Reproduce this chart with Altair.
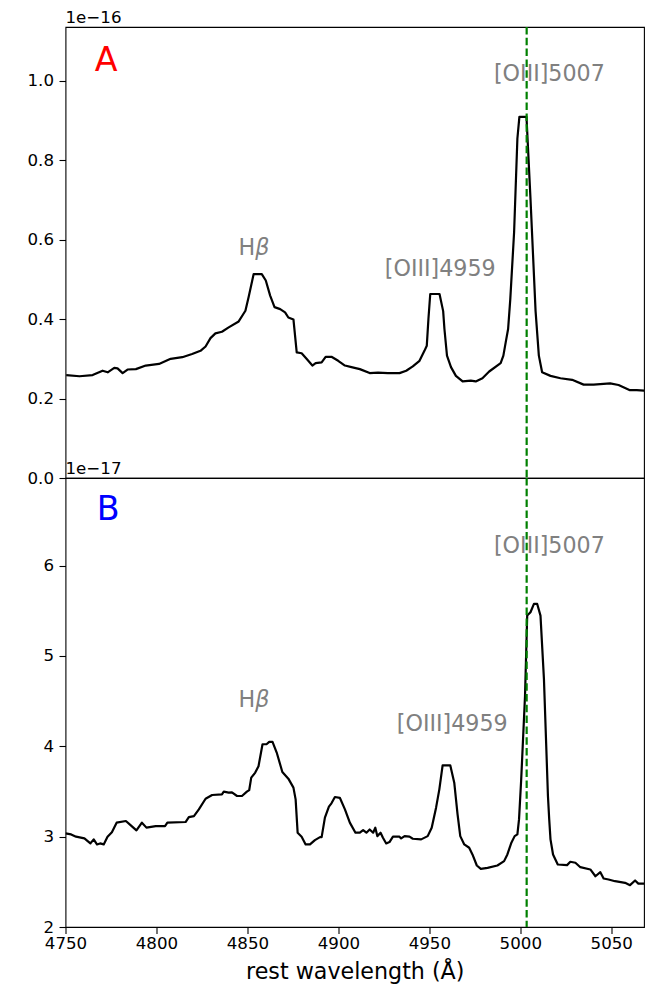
import altair as alt
import pandas as pd

# ---- Panel A spectrum (flux in units of 1e-16) ----
wave_a = [4750.4, 4757.7, 4764.9, 4770.4, 4773.2, 4776.8, 4778.6, 4781.4, 4784.1, 4788.7,
          4794.1, 4801.4, 4807.8, 4814.2, 4819.6, 4824.2, 4827.0, 4829.7, 4832.4, 4836.0,
          4839.7, 4845.2, 4848.9, 4850.7, 4853.4, 4857.9, 4860.1, 4862.5, 4864.9, 4868.0,
          4870.7, 4872.5, 4875.3, 4877.1, 4879.8, 4882.5, 4885.7, 4887.5, 4890.8, 4893.0,
          4896.2, 4899.9, 4903.6, 4907.2, 4911.8, 4917.2, 4921.8, 4927.2, 4933.6, 4937.3,
          4940.9, 4944.6, 4947.3, 4948.6, 4949.5, 4950.5, 4955.6, 4957.6, 4958.3, 4959.7,
          4961.9, 4964.6, 4968.3, 4972.8, 4975.5, 4979.2, 4982.9, 4989.2, 4990.7, 4992.0,
          4993.3, 4994.5, 4996.6, 4998.4, 4999.5, 5003.4, 5005.6, 5008.4, 5010.2, 5012.0,
          5016.6, 5022.1, 5028.5, 5034.8, 5040.3, 5049.4, 5054.0, 5060.3, 5064.0, 5068.4]
flux_a = [0.259, 0.256, 0.259, 0.270, 0.266, 0.277, 0.276, 0.264, 0.273, 0.274,
          0.283, 0.287, 0.300, 0.304, 0.312, 0.320, 0.331, 0.352, 0.364, 0.368,
          0.379, 0.394, 0.421, 0.456, 0.513, 0.513, 0.497, 0.459, 0.430, 0.425,
          0.417, 0.404, 0.399, 0.316, 0.314, 0.300, 0.283, 0.289, 0.291, 0.305,
          0.305, 0.295, 0.283, 0.279, 0.274, 0.264, 0.265, 0.264, 0.264, 0.270,
          0.281, 0.295, 0.320, 0.333, 0.400, 0.463, 0.463, 0.420, 0.375, 0.308,
          0.279, 0.257, 0.243, 0.245, 0.243, 0.251, 0.268, 0.289, 0.308, 0.342,
          0.375, 0.450, 0.619, 0.854, 0.909, 0.909, 0.703, 0.420, 0.308, 0.266,
          0.257, 0.251, 0.247, 0.235, 0.235, 0.238, 0.234, 0.221, 0.221, 0.220]

# ---- Panel B spectrum (flux in units of 1e-17) ----
wave_b = [4750.0, 4753.1, 4755.8, 4760.4, 4762.2, 4763.7, 4765.5, 4767.3, 4769.0, 4771.0,
          4773.1, 4775.5, 4778.1, 4783.2, 4785.9, 4789.0, 4792.0, 4794.5, 4799.6, 4804.7,
          4806.0, 4816.0, 4817.8, 4820.6, 4823.3, 4827.0, 4830.6, 4836.0, 4837.0, 4839.7,
          4841.5, 4844.3, 4847.0, 4849.7, 4851.0, 4852.1, 4854.3, 4856.1, 4858.3, 4860.5,
          4862.0, 4863.8, 4866.1, 4869.2, 4872.5, 4875.3, 4876.5, 4877.6, 4879.8, 4882.0,
          4884.4, 4887.1, 4889.9, 4890.8, 4892.6, 4894.8, 4896.2, 4898.1, 4900.8, 4903.6,
          4906.3, 4909.4, 4911.8, 4913.6, 4915.4, 4917.2, 4919.1, 4920.3, 4921.4, 4923.2,
          4924.5, 4926.3, 4928.1, 4930.0, 4933.6, 4934.5, 4936.4, 4939.1, 4940.9, 4945.5,
          4949.1, 4951.3, 4953.7, 4955.5, 4957.3, 4961.5, 4963.7, 4965.5, 4967.0, 4969.2,
          4971.9, 4973.7, 4976.1, 4978.3, 4982.0, 4987.4, 4991.1, 4992.9, 4995.1, 4996.9,
          4998.4, 4999.3, 5000.5, 5002.6, 5003.8, 5005.6, 5007.5, 5009.3, 5011.1, 5013.0,
          5015.2, 5015.9, 5016.6, 5018.0, 5020.6, 5025.7, 5027.5, 5030.3, 5033.0, 5038.5,
          5041.3, 5044.0, 5045.8, 5048.5, 5052.1, 5057.6, 5060.3, 5063.1, 5064.9, 5068.4]
flux_b = [3.036, 3.025, 3.000, 2.981, 2.951, 2.925, 2.970, 2.914, 2.925, 2.914,
          3.000, 3.050, 3.155, 3.173, 3.125, 3.070, 3.155, 3.100, 3.117, 3.117,
          3.155, 3.162, 3.217, 3.228, 3.302, 3.420, 3.461, 3.469, 3.498, 3.487,
          3.490, 3.450, 3.450, 3.498, 3.516, 3.654, 3.709, 3.780, 4.023, 4.023,
          4.049, 4.049, 3.931, 3.716, 3.642, 3.543, 3.413, 3.044, 3.000, 2.914,
          2.914, 2.962, 2.995, 2.995, 3.210, 3.332, 3.369, 3.439, 3.430, 3.302,
          3.155, 3.044, 3.044, 3.073, 3.044, 3.080, 3.044, 3.099, 3.006, 3.044,
          2.988, 2.925, 2.940, 3.000, 3.000, 2.980, 3.006, 3.000, 2.977, 2.970,
          3.006, 3.099, 3.321, 3.524, 3.790, 3.790, 3.598, 3.250, 3.006, 2.914,
          2.877, 2.803, 2.681, 2.644, 2.655, 2.681, 2.729, 2.803, 2.933, 3.006,
          3.025, 3.191, 3.635, 4.560, 5.447, 5.484, 5.576, 5.576, 5.447, 4.744,
          3.450, 3.191, 2.970, 2.803, 2.692, 2.685, 2.722, 2.711, 2.662, 2.637,
          2.562, 2.607, 2.537, 2.526, 2.507, 2.489, 2.463, 2.515, 2.480, 2.480]

# ---- axes ----
wave_range = [4750, 5068]
wave_ticks = [4750, 4800, 4850, 4900, 4950, 5000, 5050]
flux_range_a = [0, 1.135]
flux_ticks_a = [0.0, 0.2, 0.4, 0.6, 0.8, 1.0]
flux_range_b = [2, 6.97]
flux_ticks_b = [2, 3, 4, 5, 6]
exponent_a = "1e\u221216"
exponent_b = "1e\u221217"

# ---- annotations ----
oiii_marker = 5003.5
line_names = ["[OIII]4959", "[OIII]5007"]
line_x_a = [4956.0, 5016.0]
line_y_a = [0.527, 1.017]
line_x_b = [4962.6, 5016.0]
line_y_b = [4.245, 6.212]
hbeta_x = 4854.3
hbeta_y_a = 0.580
hbeta_y_b = 4.515
panel_tags = ["A", "B"]
panel_tag_colors = ["red", "blue"]
panel_tag_x = [4772.3, 4773.5]
panel_tag_y = [1.050, 6.62]

FONT = "DejaVu Sans"
TICK_FS = 16.67
LABEL_FS = 22.2
PLOT_W = 578.5


def panel(wave, flux, y_range, y_ticks, y_fmt, exponent, lx, ly, hb_y,
          tag, tag_color, tag_x, tag_y, height, show_x):
    if show_x:
        x_axis = alt.Axis(values=wave_ticks, format="d", title="rest wavelength (\u00c5)")
    else:
        x_axis = None
    y_axis = alt.Axis(values=y_ticks, format=y_fmt, title=None)
    xs = alt.Scale(domain=wave_range, nice=False, zero=False)
    ys = alt.Scale(domain=y_range, nice=False, zero=False)

    def X(field="w"):
        return alt.X(f"{field}:Q", scale=xs, axis=x_axis)

    def Y(field="f"):
        return alt.Y(f"{field}:Q", scale=ys, axis=y_axis)

    spec = alt.Chart(pd.DataFrame({"w": wave, "f": flux})).mark_line(
        color="black", strokeWidth=2.2, clip=True, strokeJoin="round"
    ).encode(x=X(), y=Y())

    marker = alt.Chart(pd.DataFrame({"w": [oiii_marker]})).mark_rule(
        color="green", strokeWidth=2.2, strokeDash=[7.5, 3.3]
    ).encode(x=X())

    names = alt.Chart(pd.DataFrame({"w": lx, "f": ly, "t": line_names})).mark_text(
        align="center", baseline="middle", font=FONT, fontSize=LABEL_FS, color="gray"
    ).encode(x=X(), y=Y(), text="t:N")

    h_txt = alt.Chart(pd.DataFrame({"w": [hbeta_x], "f": [hb_y], "t": ["H"]})).mark_text(
        align="right", baseline="middle", font=FONT, fontSize=LABEL_FS, color="gray"
    ).encode(x=X(), y=Y(), text="t:N")

    beta_txt = alt.Chart(pd.DataFrame({"w": [hbeta_x], "f": [hb_y], "t": ["\u03b2"]})).mark_text(
        align="left", baseline="middle", font=FONT, fontSize=LABEL_FS, color="gray",
        fontStyle="italic"
    ).encode(x=X(), y=Y(), text="t:N")

    tag_txt = alt.Chart(pd.DataFrame({"w": [tag_x], "f": [tag_y], "t": [tag]})).mark_text(
        align="center", baseline="middle", font=FONT, fontSize=33.3, color=tag_color
    ).encode(x=X(), y=Y(), text="t:N")

    expo_txt = alt.Chart(pd.DataFrame({"w": [wave_range[0]], "f": [y_range[1]], "t": [exponent]})).mark_text(
        align="left", baseline="alphabetic", dy=-4, font=FONT, fontSize=TICK_FS, color="black"
    ).encode(x=X(), y=Y(), text="t:N")

    return alt.layer(spec, marker, names, h_txt, beta_txt, tag_txt, expo_txt).properties(
        width=PLOT_W, height=height
    )


top = panel(wave_a, flux_a, flux_range_a, flux_ticks_a, ".1f", exponent_a,
            line_x_a, line_y_a, hbeta_y_a, panel_tags[0], panel_tag_colors[0],
            panel_tag_x[0], panel_tag_y[0], 451, False)
bottom = panel(wave_b, flux_b, flux_range_b, flux_ticks_b, "d", exponent_b,
               line_x_b, line_y_b, hbeta_y_b, panel_tags[1], panel_tag_colors[1],
               panel_tag_x[1], panel_tag_y[1], 449, True)

chart = alt.vconcat(top, bottom, spacing=0, bounds="flush").properties(
    padding={"left": 25.5, "top": 9, "right": 1, "bottom": 5},
    background="white",
).configure_view(
    stroke="black", strokeWidth=1.1
).configure_axis(
    grid=False, domain=False, labelFlush=False,
    labelFont=FONT, labelFontSize=TICK_FS, labelColor="black",
    tickColor="black", tickWidth=1.1, tickSize=6.5,
    titleFont=FONT, titleFontSize=LABEL_FS, titleFontWeight="normal", titleColor="black",
).configure_axisY(
    labelPadding=5.5
).configure_axisX(
    labelPadding=2, titlePadding=8
)

chart.save("out.html", embed_options={"renderer": "svg", "actions": False})
